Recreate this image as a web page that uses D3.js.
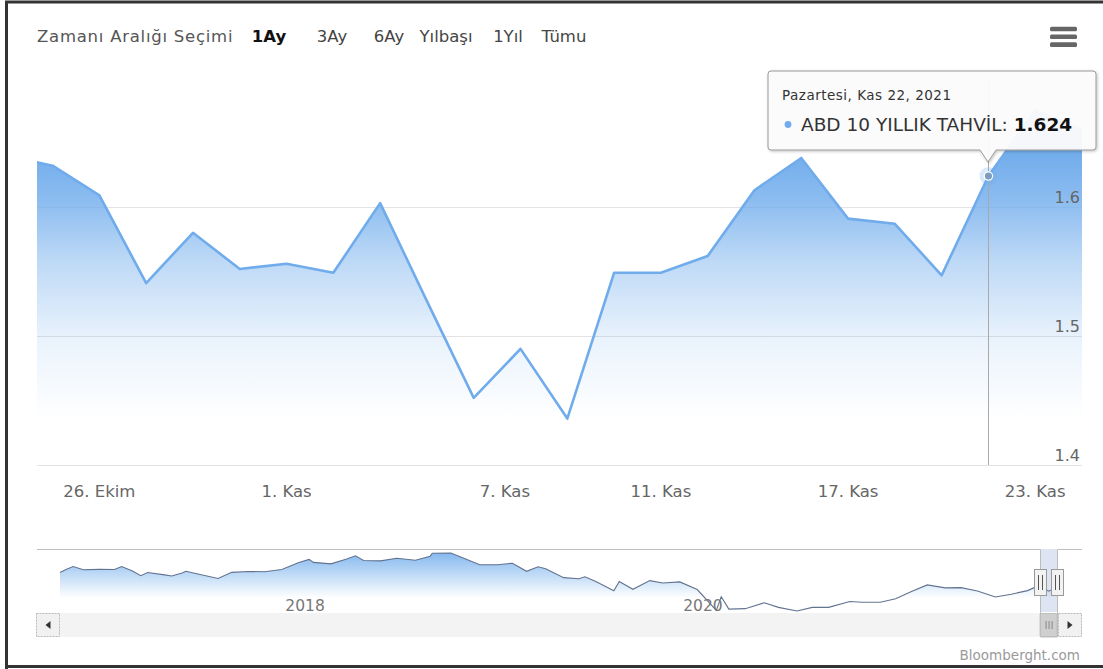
<!DOCTYPE html>
<html>
<head>
<meta charset="utf-8">
<script src="https://cdn.jsdelivr.net/npm/d3@7"></script>
<style>
  html, body { margin: 0; padding: 0; background: #fff; }
  svg { display: block; font-family: "DejaVu Sans", Verdana, sans-serif; }
</style>
</head>
<body>
<svg id="chart" width="1103" height="669"></svg>
<script>
// ABD 10 yıllık tahvil getirisi (%), günlük kapanış — 1 aylık görünüm
const dates = [
  "2021-10-22", "2021-10-25", "2021-10-26", "2021-10-27", "2021-10-28", "2021-10-29",
  "2021-11-01", "2021-11-02", "2021-11-03", "2021-11-04", "2021-11-05",
  "2021-11-08", "2021-11-09", "2021-11-10", "2021-11-11", "2021-11-12",
  "2021-11-15", "2021-11-16", "2021-11-17", "2021-11-18", "2021-11-19",
  "2021-11-22", "2021-11-23", "2021-11-24"
];
const values = [
  1.640, 1.632, 1.609, 1.541, 1.580, 1.552,
  1.556, 1.549, 1.603, 1.527, 1.452,
  1.490, 1.436, 1.549, 1.549, 1.562,
  1.613, 1.638, 1.591, 1.587, 1.547,
  1.624, 1.675, 1.660
];
const seriesName = "ABD 10 YILLIK TAHVİL";
const hoverDate = "2021-11-22";
const viewStart = "2021-10-24";
const viewEnd = "2021-11-24";

const yTicks = [1.4, 1.5, 1.6];
const yDomain = [1.4, 1.7];
const tickDates = ["2021-10-26", "2021-11-01", "2021-11-07", "2021-11-11", "2021-11-17", "2021-11-23"];
const tickLabels = ["26. Ekim", "1. Kas", "7. Kas", "11. Kas", "17. Kas", "23. Kas"];

const rangeTitle = "Zamanı Aralığı Seçimi";
const rangeButtons = ["1Ay", "3Ay", "6Ay", "Yılbaşı", "1Yıl", "Tümu"];
const selectedButton = "1Ay";

const dayNames = ["Pazar", "Pazartesi", "Salı", "Çarşamba", "Perşembe", "Cuma", "Cumartesi"];
const monthNames = ["Oca", "Şub", "Mar", "Nis", "May", "Haz", "Tem", "Ağu", "Eyl", "Eki", "Kas", "Ara"];

// Navigator: uzun dönem seri
const navDates = [
  "2016-11-21", "2016-12-01", "2016-12-15", "2017-01-03", "2017-02-01", "2017-03-01",
  "2017-03-14", "2017-04-03", "2017-04-18", "2017-05-01", "2017-06-01", "2017-06-14",
  "2017-07-03", "2017-07-10", "2017-08-01", "2017-09-07", "2017-10-02", "2017-11-01",
  "2017-12-01", "2018-01-02", "2018-02-01", "2018-02-21", "2018-03-01", "2018-04-02",
  "2018-05-01", "2018-05-17", "2018-06-01", "2018-07-02", "2018-08-01", "2018-09-04",
  "2018-10-01", "2018-10-05", "2018-11-08", "2018-12-03", "2018-12-31", "2019-02-01",
  "2019-03-01", "2019-03-27", "2019-04-17", "2019-05-01", "2019-06-03", "2019-07-01",
  "2019-07-12", "2019-08-01", "2019-09-03", "2019-09-13", "2019-10-08", "2019-11-08",
  "2019-12-02", "2020-01-02", "2020-02-03", "2020-03-09", "2020-03-18", "2020-04-01",
  "2020-05-01", "2020-06-05", "2020-07-01", "2020-08-04", "2020-09-01", "2020-10-01",
  "2020-11-09", "2020-12-01", "2021-01-04", "2021-02-01", "2021-03-01", "2021-03-31",
  "2021-05-03", "2021-06-01", "2021-07-01", "2021-08-03", "2021-09-01", "2021-10-01",
  "2021-10-21", "2021-11-09", "2021-11-24"
];
const navValues = [
  2.32, 2.45, 2.60, 2.45, 2.47, 2.46,
  2.60, 2.39, 2.17, 2.32, 2.21, 2.16,
  2.30, 2.38, 2.25, 2.04, 2.33, 2.37,
  2.36, 2.46, 2.78, 2.94, 2.80, 2.73,
  2.96, 3.11, 2.89, 2.87, 2.99, 2.90,
  3.09, 3.23, 3.24, 2.98, 2.69, 2.69,
  2.76, 2.38, 2.59, 2.50, 2.08, 2.03,
  2.12, 1.90, 1.46, 1.90, 1.53, 1.94,
  1.83, 1.88, 1.52, 0.54, 1.18, 0.60,
  0.62, 0.90, 0.68, 0.51, 0.68, 0.68,
  0.96, 0.92, 0.92, 1.09, 1.42, 1.74,
  1.60, 1.61, 1.45, 1.17, 1.30, 1.47,
  1.70, 1.44, 1.64
];
const navYearTicks = ["2018-01-01", "2020-01-01"];
const creditText = "Bloomberght.com";

// ---------------------------------------------------------------------------
const parse = d3.utcParse("%Y-%m-%d");
const T = dates.map(parse);
const svg = d3.select("#chart");
const W = 1103, H = 669;

const plot = { left: 37, right: 1082, top: 78, bottom: 465 };
const nav = { left: 60, right: 1057, top: 549, bottom: 612, outerLeft: 37, outerRight: 1082 };
const scroll = { top: 613, bottom: 637, btn: 24 };
const seriesColor = "#70acec";

// ordinal position (weekends collapsed) of an arbitrary date
function ordIndex(d) {
  const t = +d;
  if (t <= +T[0]) return 0;
  for (let i = 0; i < T.length - 1; i++) {
    if (t >= +T[i] && t <= +T[i + 1]) return i + (t - T[i]) / (T[i + 1] - T[i]);
  }
  return T.length - 1;
}

const x = d3.scaleLinear()
  .domain([ordIndex(parse(viewStart)), ordIndex(parse(viewEnd))])
  .range([plot.left, plot.right]);
const y = d3.scaleLinear().domain(yDomain).range([plot.bottom, plot.top]);

const defs = svg.append("defs");
defs.append("clipPath").attr("id", "plotClip")
  .append("rect").attr("x", plot.left).attr("y", plot.top - 40)
  .attr("width", plot.right - plot.left).attr("height", plot.bottom - plot.top + 40);

// area fill: strong near the top, fading quickly towards the bottom
const grad = defs.append("linearGradient").attr("id", "areaGrad")
  .attr("gradientUnits", "userSpaceOnUse")
  .attr("x1", 0).attr("x2", 0).attr("y1", 150).attr("y2", 420);
[[0, 1], [0.19, 0.8], [0.41, 0.46], [0.56, 0.3], [0.7, 0.15], [1, 0]].forEach(([o, a]) => {
  grad.append("stop").attr("offset", o).attr("stop-color", seriesColor).attr("stop-opacity", a);
});

const navGrad = defs.append("linearGradient").attr("id", "navGrad")
  .attr("gradientUnits", "userSpaceOnUse")
  .attr("x1", 0).attr("x2", 0).attr("y1", nav.top + 4).attr("y2", nav.bottom - 14);
navGrad.append("stop").attr("offset", 0).attr("stop-color", seriesColor).attr("stop-opacity", 0.85);
navGrad.append("stop").attr("offset", 1).attr("stop-color", seriesColor).attr("stop-opacity", 0);

const shadow = defs.append("filter").attr("id", "tipShadow")
  .attr("x", "-10%").attr("y", "-20%").attr("width", "120%").attr("height", "150%");
shadow.append("feDropShadow").attr("dx", 1).attr("dy", 1).attr("stdDeviation", 1.5)
  .attr("flood-color", "#000").attr("flood-opacity", 0.25);

svg.append("rect").attr("width", W).attr("height", H).attr("fill", "#fff");

// ---- range selector ----------------------------------------------------------
svg.append("text").attr("x", 37).attr("y", 42)
  .attr("font-size", 16.5).attr("letter-spacing", 0.75).attr("fill", "#555").text(rangeTitle);
const buttonX = [269, 332, 389, 446, 508, 564];
svg.append("g").selectAll("text").data(rangeButtons).join("text")
  .attr("x", (d, i) => buttonX[i]).attr("y", 42)
  .attr("text-anchor", "middle")
  .attr("font-size", 16.5)
  .attr("font-weight", d => d === selectedButton ? "bold" : "normal")
  .attr("fill", d => d === selectedButton ? "#111" : "#444")
  .text(d => d);

// export menu icon
svg.append("g").selectAll("rect").data([29, 36.8, 44.6]).join("rect")
  .attr("x", 1050).attr("y", d => d - 2.3).attr("width", 27).attr("height", 4.6)
  .attr("rx", 1.5).attr("fill", "#666");

// ---- main plot -----------------------------------------------------------------
svg.append("g").selectAll("line").data(yTicks).join("line")
  .attr("x1", plot.left).attr("x2", plot.right)
  .attr("y1", d => Math.round(y(d)) + 0.5).attr("y2", d => Math.round(y(d)) + 0.5)
  .attr("stroke", "#e3e3e3").attr("stroke-width", 1);

const pts = values.map((v, i) => ({ i, v }));
const gPlot = svg.append("g").attr("clip-path", "url(#plotClip)");
gPlot.append("path").datum(pts)
  .attr("d", d3.area().x(d => x(d.i)).y0(plot.bottom).y1(d => y(d.v)))
  .attr("fill", "url(#areaGrad)");

// crosshair
const hi = dates.indexOf(hoverDate);
const hx = x(hi), hy = y(values[hi]);
svg.append("line")
  .attr("x1", Math.round(hx) + 0.5).attr("x2", Math.round(hx) + 0.5)
  .attr("y1", plot.top).attr("y2", plot.bottom)
  .attr("stroke", "#a9a9a9").attr("stroke-width", 1);

gPlot.append("path").datum(pts)
  .attr("d", d3.line().x(d => x(d.i)).y(d => y(d.v)))
  .attr("fill", "none").attr("stroke", seriesColor).attr("stroke-width", 2.6)
  .attr("stroke-linejoin", "round");

// y axis labels (inside, right aligned)
svg.append("g").selectAll("text").data(yTicks).join("text")
  .attr("x", 1080).attr("y", d => y(d) - 4)
  .attr("text-anchor", "end").attr("font-size", 16).attr("fill", "#666")
  .text(d => d3.format(".1f")(d));

// x axis labels
svg.append("g").selectAll("text").data(tickDates).join("text")
  .attr("x", d => x(ordIndex(parse(d))))
  .attr("y", 497)
  .attr("text-anchor", "middle").attr("font-size", 16.5).attr("fill", "#666")
  .text((d, i) => tickLabels[i]);

// hover marker
svg.append("circle").attr("cx", hx).attr("cy", hy).attr("r", 9)
  .attr("fill", seriesColor).attr("opacity", 0.25);
svg.append("circle").attr("cx", hx).attr("cy", hy).attr("r", 4.2)
  .attr("fill", "#7d9cc0").attr("stroke", "#fff").attr("stroke-width", 1.2);

// tooltip
const tip = { x0: 768, x1: 1096, y0: 71, y1: 150 };
const ax = Math.round(hx);
const tipPath = `M${tip.x0 + 3},${tip.y0} H${tip.x1 - 3} Q${tip.x1},${tip.y0} ${tip.x1},${tip.y0 + 3}
  V${tip.y1 - 3} Q${tip.x1},${tip.y1} ${tip.x1 - 3},${tip.y1}
  H${ax + 8} L${ax},${tip.y1 + 12} L${ax - 8},${tip.y1}
  H${tip.x0 + 3} Q${tip.x0},${tip.y1} ${tip.x0},${tip.y1 - 3}
  V${tip.y0 + 3} Q${tip.x0},${tip.y0} ${tip.x0 + 3},${tip.y0} Z`;
svg.append("path").attr("d", tipPath)
  .attr("fill", "rgba(252,252,252,0.95)").attr("stroke", "#9a9a9a").attr("stroke-width", 1)
  .attr("filter", "url(#tipShadow)");

const hd = T[hi];
const headText = `${dayNames[hd.getUTCDay()]}, ${monthNames[hd.getUTCMonth()]} ${hd.getUTCDate()}, ${hd.getUTCFullYear()}`;
svg.append("text").attr("x", 782).attr("y", 100)
  .attr("font-size", 13.5).attr("letter-spacing", 0.5).attr("fill", "#333").text(headText);
svg.append("circle").attr("cx", 788).attr("cy", 124.5).attr("r", 3.4).attr("fill", seriesColor);
const body = svg.append("text").attr("x", 801).attr("y", 131)
  .attr("font-size", 18.5).attr("fill", "#333");
body.append("tspan").text(seriesName + ": ");
body.append("tspan").attr("font-weight", "bold").attr("fill", "#111")
  .text(d3.format(".3f")(values[hi]));

// ---- navigator -----------------------------------------------------------------
const NT = navDates.map(parse);
const nx = d3.scaleUtc().domain([NT[0], NT[NT.length - 1]]).range([nav.left, nav.right]);
const ny = d3.scaleLinear().domain(d3.extent(navValues)).range([nav.bottom - 1, nav.top + 4]);
const navPts = navValues.map((v, i) => ({ t: NT[i], v }));

svg.append("path").datum(navPts)
  .attr("d", d3.area().x(d => nx(d.t)).y0(nav.bottom).y1(d => ny(d.v)))
  .attr("fill", "url(#navGrad)");
svg.append("path").datum(navPts)
  .attr("d", d3.line().x(d => nx(d.t)).y(d => ny(d.v)))
  .attr("fill", "none").attr("stroke", "#62738f").attr("stroke-width", 1.1);

svg.append("g").selectAll("text").data(navYearTicks).join("text")
  .attr("x", d => nx(parse(d)) + 4).attr("y", 611)
  .attr("font-size", 15.5).attr("fill", "#777")
  .text(d => d.slice(0, 4));

const selL = nx(parse(viewStart)), selR = nx(parse(viewEnd));

// selected zone mask
svg.append("rect").attr("x", selL).attr("y", nav.top)
  .attr("width", selR - selL).attr("height", nav.bottom - nav.top)
  .attr("fill", "rgba(102,133,194,0.22)");

// scrollbar
svg.append("rect").attr("x", nav.left).attr("y", scroll.top)
  .attr("width", nav.right - nav.left + 1).attr("height", scroll.bottom - scroll.top)
  .attr("fill", "#f3f3f3");
svg.append("rect").attr("x", selL).attr("y", scroll.top + 0.5)
  .attr("width", selR - selL).attr("height", scroll.bottom - scroll.top - 1)
  .attr("rx", 1).attr("fill", "#cfcfcf").attr("stroke", "#bdbdbd");
const gripX = (selL + selR) / 2;
[-3, 0, 3].forEach(o => {
  svg.append("line").attr("x1", gripX + o + 0.5).attr("x2", gripX + o + 0.5)
    .attr("y1", scroll.top + 8).attr("y2", scroll.bottom - 8)
    .attr("stroke", "#888").attr("stroke-width", 1);
});

// scroll buttons: left arrow points left, right arrow points right
const buttons = [
  { x: nav.outerLeft - 1, dir: -1 },
  { x: nav.right + 1, dir: 1 }
];
buttons.forEach(b => {
  svg.append("rect").attr("x", b.x + 0.5).attr("y", scroll.top + 0.5)
    .attr("width", scroll.btn - 1).attr("height", scroll.bottom - scroll.top - 1)
    .attr("fill", "#f1f1f1").attr("stroke", "#b8b8b8").attr("stroke-dasharray", "2,1");
  const cx = b.x + scroll.btn / 2, cy = (scroll.top + scroll.bottom) / 2;
  svg.append("path")
    .attr("d", `M${cx - 2.5 * b.dir},${cy - 4} L${cx + 2.5 * b.dir},${cy} L${cx - 2.5 * b.dir},${cy + 4} Z`)
    .attr("fill", "#333");
});

// navigator outline
svg.append("path")
  .attr("d", `M${nav.outerLeft},${nav.top + 0.5} H${Math.round(selL) + 0.5} V${scroll.bottom}
              H${Math.round(selR) + 0.5} V${nav.top + 0.5} H${nav.outerRight}`)
  .attr("fill", "none").attr("stroke", "#bdbdbd").attr("stroke-width", 1);

// handles
[selL, selR].forEach(hxv => {
  const hx0 = Math.round(hxv) - 6;
  svg.append("rect").attr("x", hx0 + 0.5).attr("y", 569.5).attr("width", 12).attr("height", 26)
    .attr("fill", "#f2f2f2").attr("stroke", "#9a9a9a");
  [4, 8].forEach(o => {
    svg.append("line").attr("x1", hx0 + o + 0.5).attr("x2", hx0 + o + 0.5)
      .attr("y1", 575).attr("y2", 590).attr("stroke", "#555");
  });
});

// credits
svg.append("text").attr("x", 1080).attr("y", 660)
  .attr("text-anchor", "end").attr("font-size", 13.5).attr("fill", "#9a9a9a")
  .text(creditText);

// frame
svg.append("path")
  .attr("d", `M6.5,669 V2 H1103 M6.5,666.5 H1103`)
  .attr("fill", "none").attr("stroke", "#333").attr("stroke-width", 3);
</script>
</body>
</html>
